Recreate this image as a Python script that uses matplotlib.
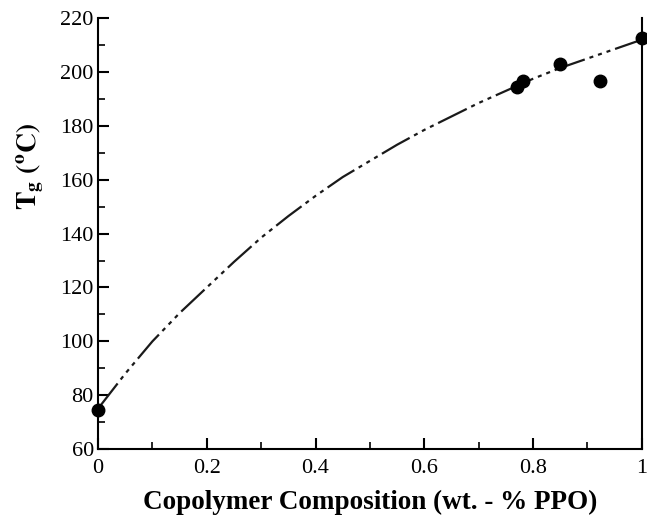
import matplotlib
matplotlib.use('Agg')
import matplotlib.pyplot as plt
from matplotlib.ticker import MultipleLocator

plt.rcParams['font.family'] = 'Liberation Serif'
plt.rcParams['mathtext.fontset'] = 'stix'
plt.rcParams['lines.scale_dashes'] = False

# measured Tg values
comp_pts = [0.0, 0.77, 0.781, 0.849, 0.923, 1.0]
tg_pts = [74.5, 194.5, 196.5, 203.0, 196.5, 212.5]

# fitted curve
comp_fit = [0.0, 0.05, 0.1, 0.15, 0.2, 0.25, 0.3, 0.35, 0.4, 0.45, 0.5,
            0.55, 0.6, 0.65, 0.7, 0.75, 0.8, 0.85, 0.9, 0.95, 1.0]
tg_fit = [75, 88, 100, 110.5, 120, 129.5, 138.5, 146.5, 154, 161, 167,
          173, 178.5, 183.5, 188.5, 193, 197.5, 201.5, 205, 208.5, 212]

fig = plt.figure(figsize=(6.47, 5.18), dpi=100)
ax = fig.add_axes([0.1515, 0.133, 0.8405, 0.832])

ax.plot(comp_fit, tg_fit, color='#1a1a1a', linewidth=1.6,
        linestyle=(0, (23, 3.6, 2.9, 3.6, 2.9, 3.6, 2.9, 3.6)))
ax.plot(comp_pts, tg_pts, 'o', color='black', markersize=9, clip_on=False, zorder=5)

ax.set_xlim(0, 1)
ax.set_ylim(60, 220)
ax.xaxis.set_major_locator(MultipleLocator(0.2))
ax.xaxis.set_minor_locator(MultipleLocator(0.1))
ax.yaxis.set_major_locator(MultipleLocator(20))
ax.yaxis.set_minor_locator(MultipleLocator(10))
ax.set_xticks([0, 0.2, 0.4, 0.6, 0.8, 1.0])
ax.set_xticklabels(['0', '0.2', '0.4', '0.6', '0.8', '1'])

ax.spines['top'].set_visible(False)
for s in ['left', 'bottom', 'right']:
    ax.spines[s].set_linewidth(1.5)

ax.tick_params(which='both', direction='in', top=False, right=False, labelsize=16)
ax.tick_params(which='major', length=8, width=1.5)
ax.tick_params(which='minor', length=5, width=1.2)
ax.tick_params(axis='x', pad=7)
ax.tick_params(axis='y', pad=3)

ax.set_xlabel('Copolymer Composition (wt. - % PPO)', fontsize=19.5, fontweight='bold', labelpad=9)
ax.set_ylabel(r'$\mathbf{T_g\ (^oC)}$', fontsize=20)
ax.yaxis.set_label_coords(-0.095, 0.657)

plt.savefig('out.png', dpi=100)
